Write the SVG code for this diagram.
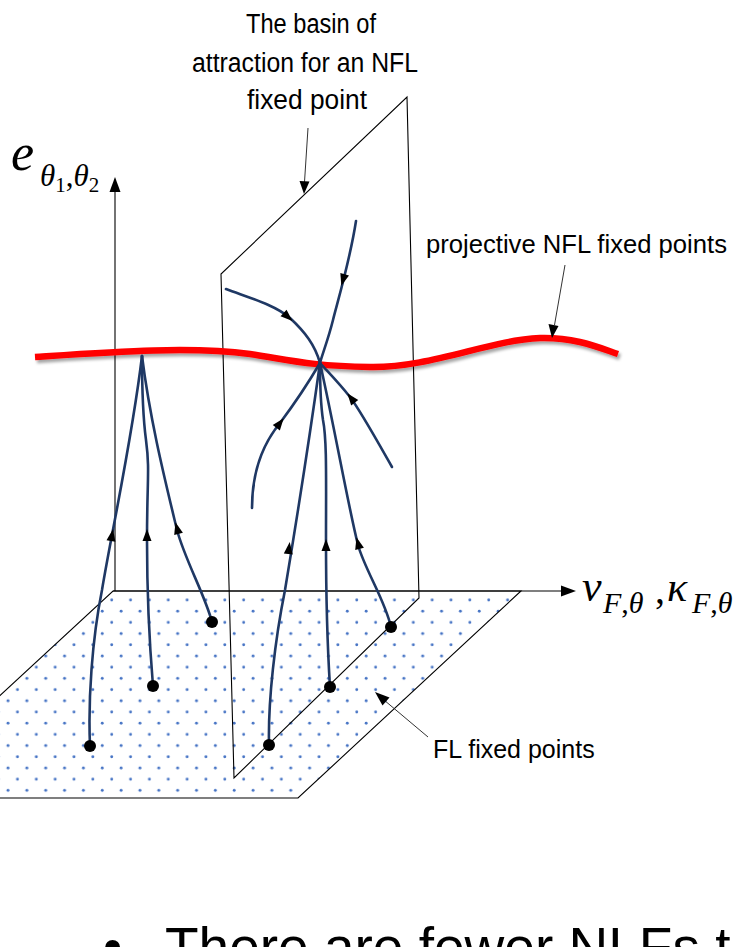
<svg xmlns="http://www.w3.org/2000/svg" xmlns:xlink="http://www.w3.org/1999/xlink" width="742" height="947" viewBox="0 0 742 947">
<style>
.thin{fill:none;stroke:#000;stroke-width:1.1}
.leader{fill:none;stroke:#333;stroke-width:1}
.traj{fill:none;stroke:#1f3864;stroke-width:2.6;stroke-linecap:round}
.lbl{font-family:"Liberation Sans",Arial,sans-serif;font-size:25px;fill:#000}
.ttl{font-family:"Liberation Sans",Arial,sans-serif;font-size:27px;fill:#000}
.math{font-family:"Liberation Serif","Times New Roman",serif;font-style:italic;fill:#000}
.dot{fill:#000}
</style>
<defs>
<pattern id="dots" patternUnits="userSpaceOnUse" x="88.15" y="594.4" width="18.85" height="22.4">
<circle cx="4.7" cy="5.6" r="1.45" fill="#4472c4"/>
<circle cx="14.125" cy="16.8" r="1.45" fill="#4472c4"/>
</pattern>
<path id="ah" d="M6,0 L-6,-4.5 L-6,4.5 Z" fill="#000"/>
<filter id="shadow" x="-5%" y="-50%" width="110%" height="200%">
<feDropShadow dx="2" dy="3" stdDeviation="1.8" flood-color="#000" flood-opacity="0.35"/>
</filter>
</defs>

<g id="floor">
<polygon points="113,591 521,591 298,798 -111,798" fill="url(#dots)" stroke="#000" stroke-width="1.1"/>
</g>

<g id="basin-plane">
<polygon class="thin" points="407,97 419,598 234,778 221,274"/>
</g>

<g id="axes">
<line class="thin" x1="115" y1="591" x2="115" y2="188"/>
<polygon points="115,177 109.5,192 120.5,192" fill="#000"/>
<line class="thin" x1="113" y1="591" x2="564" y2="591"/>
<polygon points="576,591 561,585.5 561,596.5" fill="#000"/>
</g>

<g id="nfl-line">
<path d="M35,357 C110,352 190,346 250,354 C290,360 310,366 370,367 C430,368 490,340 540,338 C575,337 600,348 618,354" fill="none" stroke="#ff0000" stroke-width="6.5" filter="url(#shadow)"/>
</g>

<g id="connectors">
<path class="traj" d="M90,746 C88,700 92,640 102,590 C112,530 132,440 142,356"/>
<path class="traj" d="M153,686 C150,650 147,600 147,540 C147,480 150,470 146,440 C142,410 142,380 142,356"/>
<path class="traj" d="M212,622 C205,595 185,560 177,530 C165,480 150,420 142,356"/>
<path class="traj" d="M269,745 C268,700 275,640 285,590 C295,530 312,420 320,363"/>
<path class="traj" d="M330,687 C327,640 326,600 326,540 C326,480 327,440 323,420 C320,400 320,380 320,363"/>
<path class="traj" d="M391,627 C385,600 365,570 358,545 C348,505 335,430 320,363"/>
<path class="traj" d="M252,508 C252,475 262,445 280,423 C295,403 310,380 320,363"/>
<path class="traj" d="M392,467 C375,437 360,410 350,397 C338,382 328,372 320,363"/>
<path class="traj" d="M226,289 C250,298 275,305 290,318 C305,332 315,345 320,363"/>
<path class="traj" d="M356,221 C350,260 338,300 333,320 C328,340 323,352 320,363"/>
<use xlink:href="#ah" transform="translate(112,535) rotate(-80)"/>
<use xlink:href="#ah" transform="translate(147,535) rotate(-90)"/>
<use xlink:href="#ah" transform="translate(177,528) rotate(-105)"/>
<use xlink:href="#ah" transform="translate(289,548) rotate(-83)"/>
<use xlink:href="#ah" transform="translate(326,545) rotate(-90)"/>
<use xlink:href="#ah" transform="translate(358,543) rotate(-105)"/>
<use xlink:href="#ah" transform="translate(280,423) rotate(-52)"/>
<use xlink:href="#ah" transform="translate(351,398) rotate(-128)"/>
<use xlink:href="#ah" transform="translate(288,317) rotate(42)"/>
<use xlink:href="#ah" transform="translate(343,280) rotate(106)"/>
<circle class="dot" cx="90" cy="746" r="6"/>
<circle class="dot" cx="153" cy="686" r="6"/>
<circle class="dot" cx="212" cy="622" r="6"/>
<circle class="dot" cx="269" cy="745" r="6"/>
<circle class="dot" cx="330" cy="687" r="6"/>
<circle class="dot" cx="391" cy="627" r="6"/>
</g>

<g id="label-basin">
<text class="ttl" text-anchor="middle"><tspan x="311" y="33" textLength="130" lengthAdjust="spacingAndGlyphs">The basin of</tspan><tspan x="305" y="72" textLength="226" lengthAdjust="spacingAndGlyphs">attraction for an NFL</tspan><tspan x="307" y="109" textLength="120" lengthAdjust="spacingAndGlyphs">fixed point</tspan></text>
<line class="leader" x1="308" y1="128" x2="304.5" y2="182"/>
<polygon points="304,194 299.5,181 309.5,181.5" fill="#000"/>
</g>

<g id="label-projective">
<text class="lbl" x="426" y="253" textLength="301" lengthAdjust="spacingAndGlyphs">projective NFL fixed points</text>
<line class="leader" x1="565" y1="265" x2="554.5" y2="325"/>
<polygon points="552,338 548.5,324 558.5,326" fill="#000"/>
</g>

<g id="label-fl">
<text class="lbl" x="433" y="758">FL fixed points</text>
<line class="leader" x1="428" y1="737" x2="384" y2="700"/>
<polygon points="375,692 389.5,697.5 382.5,705.5" fill="#000"/>
</g>

<g id="label-e">
<text class="math"><tspan x="11" y="170" font-size="52">e</tspan><tspan x="40" y="186" font-size="31">θ</tspan><tspan y="192" font-size="21" font-style="normal">1</tspan><tspan y="186" font-size="31" font-style="normal">,</tspan><tspan font-size="31">θ</tspan><tspan y="192" font-size="21" font-style="normal">2</tspan></text>
</g>

<g id="label-v">
<text class="math"><tspan x="582" y="601" font-size="44">v</tspan><tspan x="603" y="613" font-size="30">F</tspan><tspan font-size="30" font-style="normal">,</tspan><tspan font-size="30">θ</tspan><tspan x="655" y="603" font-size="40" font-style="normal">,</tspan><tspan x="667" y="601" font-size="42">κ</tspan><tspan x="692" y="613" font-size="30">F</tspan><tspan font-size="30" font-style="normal">,</tspan><tspan font-size="30">θ</tspan></text>
</g>

<g id="bullet-text">
<text font-family="Liberation Sans,Arial,sans-serif" font-size="55" fill="#000"><tspan x="103" y="966">•</tspan><tspan x="165" y="966">There are fewer NLFs t</tspan></text>
</g>
</svg>
